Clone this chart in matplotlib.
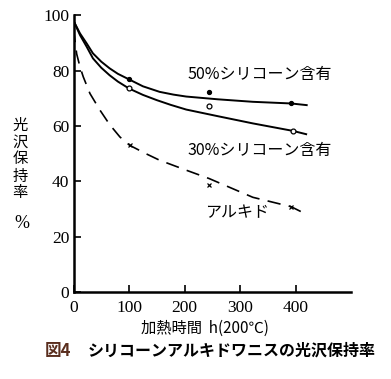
import matplotlib
matplotlib.use("Agg")
import matplotlib.pyplot as plt

# --- data ---
# 50% silicone curve
si50_t = [0, 5, 11.7, 23.7, 35, 50, 65, 80, 100, 125, 155, 180, 203, 260, 323, 392, 420]
si50_v = [98, 96, 93.4, 89.8, 86.2, 83.2, 80.8, 78.8, 76.8, 74.3, 72.3, 71.3, 70.6, 69.6, 68.7, 68.1, 67.5]
si50_mt = [100, 244, 392]
si50_mv = [77.0, 72.1, 68.1]

# 30% silicone curve
si30_t = [0, 5, 11.7, 23.7, 35, 50, 65, 80, 100, 125, 150, 175, 203, 260, 323, 395, 419]
si30_v = [98, 95.8, 92.8, 88.6, 84.4, 81.0, 78.3, 76.0, 73.5, 71.2, 69.3, 67.6, 65.9, 63.5, 60.9, 58.2, 57.0]
si30_mt = [100, 244, 395]
si30_mv = [73.6, 67.1, 58.2]

# alkyd curve
alk_t = [0, 5.7, 11.7, 17.6, 29.6, 47.6, 65, 83.6, 101, 130, 155, 203, 244, 323, 392, 416]
alk_v = [95, 86, 81.3, 77.7, 71.7, 65.7, 60.5, 56.0, 53.0, 50.0, 47.6, 44.0, 41.0, 34.2, 30.8, 28.4]
alk_mt = [101, 244, 392]
alk_mv = [53.0, 38.6, 30.8]

xticks = [0, 100, 200, 300, 400]
yticks = [0, 20, 40, 60, 80, 100]

jp = ['Noto Sans CJK JP', 'DejaVu Sans']
serif = ['Liberation Serif', 'DejaVu Serif']

fig = plt.figure(figsize=(3.91, 3.79), dpi=100)
ax = fig.add_axes([0.188, 0.2296, 0.710, 0.7304])

ax.plot(si50_t, si50_v, color='black', lw=1.4)
ax.plot(si50_mt, si50_mv, linestyle='none', marker='o', ms=2.8, color='black')
ax.plot(si30_t, si30_v, color='black', lw=1.4)
ax.plot(si30_mt, si30_mv, linestyle='none', marker='o', ms=3.5, mfc='white', mec='black', mew=0.9)
ax.plot(alk_t, alk_v, color='black', lw=1.2, dashes=(8, 5))
ax.plot(alk_mt, alk_mv, linestyle='none', marker='x', ms=3.5, color='black', mew=0.9)

ax.set_xlim(0, 500)
ax.set_ylim(0, 100)
ax.set_xticks(xticks)
ax.set_yticks(yticks)
ax.set_xticklabels([str(v) for v in xticks], fontfamily=serif, fontsize=12.5)
ax.set_yticklabels([str(v) for v in yticks], fontfamily=serif, fontsize=12.5)
ax.tick_params(direction='in', length=5, width=1.2, pad=3)
ax.tick_params(axis='x', pad=6)
for s in ['top', 'right']:
    ax.spines[s].set_visible(False)
for s in ['left', 'bottom']:
    ax.spines[s].set_linewidth(1.8)

ax.text(188/391, 1-75/379, '50%シリコーン含有', transform=fig.transFigure,
        fontfamily=jp, fontsize=11.5, va='center', ha='left')
ax.text(188/391, 1-150/379, '30%シリコーン含有', transform=fig.transFigure,
        fontfamily=jp, fontsize=11.5, va='center', ha='left')
ax.text(205/391, 1-213/379, 'アルキド', transform=fig.transFigure,
        fontfamily=jp, fontsize=11.5, va='center', ha='left')

for i, ch in enumerate('光沢保持率'):
    fig.text(20/391, 1-(125+17*i)/379, ch, fontfamily=jp, fontsize=11,
             ha='center', va='center')
fig.text(22/391, 1-224/379, '%', fontfamily=serif, fontsize=13, ha='center', va='center')

fig.text(205/391, 1-328/379, '加熱時間  h(200℃)', fontfamily=jp, fontsize=11,
         ha='center', va='center')
fig.text(45/391, 1-351/379, '図4', fontfamily=jp, fontsize=12, fontweight='bold',
         color='#5a2e1e', ha='left', va='center')
fig.text(88/391, 1-351/379, 'シリコーンアルキドワニスの光沢保持率', fontfamily=jp,
         fontsize=11.5, fontweight='bold', ha='left', va='center')

fig.savefig('out.png', dpi=100)
